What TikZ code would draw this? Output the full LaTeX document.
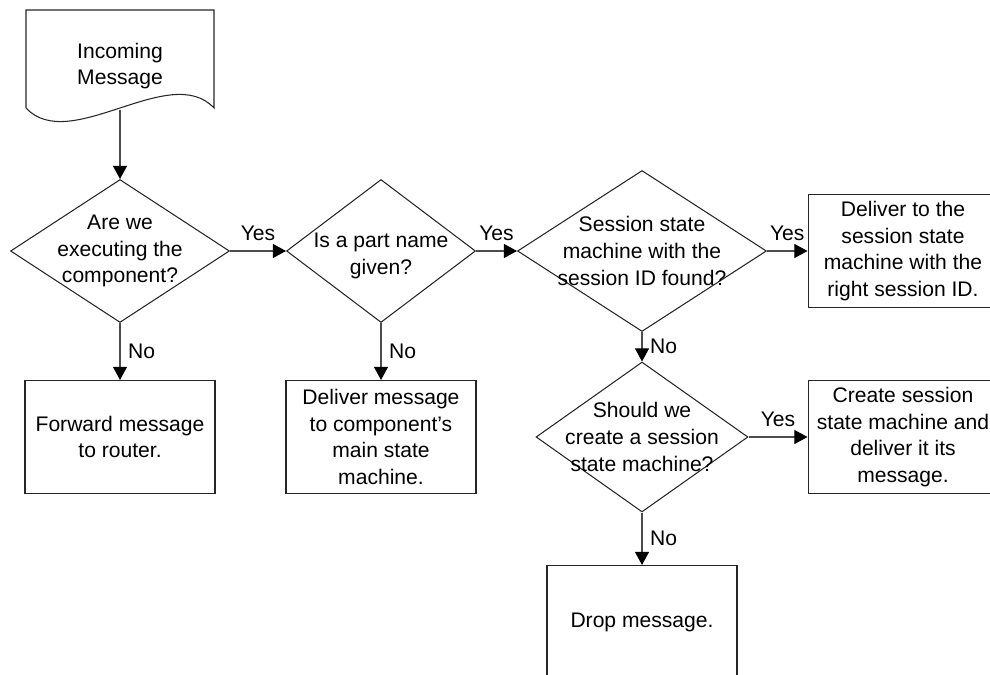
\documentclass[tikz,border=0pt]{standalone}
\usepackage{fontspec}
\setmainfont{Liberation Sans}
\usetikzlibrary{positioning,shapes.geometric,arrows.meta}

\tikzset{
  txt/.style={font=\fontsize{12}{15.3}\selectfont, align=center},
  decision/.style={diamond, draw=black!85, line width=0.6pt, inner sep=0pt},
  process/.style={rectangle, draw=black!85, line width=0.6pt, minimum width=3.8cm, minimum height=2.26cm, inner sep=0pt, txt},
  flow/.style={draw=black!70, line width=0.6pt, -{Triangle[length=7.5pt,width=8pt,color=black]}},
  yeslbl/.style={midway, above=2pt, txt},
  nolbl/.style={midway, right=1pt, txt},
}

\begin{document}
\begin{tikzpicture}[x=0.02cm, y=-0.02cm]
  \clip (0,0) rectangle (990,675);

  % incoming message (document shape)
  \draw[draw=black!85, line width=0.6pt] (26,108) -- (26,10) -- (214,10) -- (214,108)
      .. controls (170,61) and (70,155) .. (26,108) -- cycle;
  \node[txt] (incoming) at (120,66) {Incoming\\Message};
  \coordinate (docout) at (120,110);

  % decisions
  \node[decision, minimum width=4.38cm, minimum height=2.86cm,
        label={[txt]center:Are we\\executing the\\component?}] (exec) at (120,251) {};
  \node[decision, minimum width=3.78cm, minimum height=2.86cm,
        label={[txt, yshift=-0.1cm]center:Is a part name\\given?}] (part) at (381,251) {};
  \node[decision, minimum width=4.98cm, minimum height=3.22cm,
        label={[txt]center:Session state\\machine with the\\session ID found?}] (found) at (642,251) {};
  \node[decision, minimum width=4.24cm, minimum height=3.0cm,
        label={[txt]center:Should we\\create a session\\state machine?}] (create) at (642,437) {};

  % actions
  \node[process] (router) at (120,437) {Forward message\\to router.};
  \node[process] (mainsm) at (381,437) {Deliver message\\to component’s\\main state\\machine.};
  \node[process] (session) at (903,251) {Deliver to the\\session state\\machine with the\\right session ID.};
  \node[process] (newsm) at (903,437) {Create session\\state machine and\\deliver it its\\message.};
  \node[process] (drop) at (642,622) {Drop message.};

  % connectors
  \draw[flow] (docout) -- (exec);
  \draw[flow] (exec) -- node[yeslbl] {Yes} (part);
  \draw[flow] (part) -- node[yeslbl] {Yes} (found);
  \draw[flow] (found) -- node[yeslbl] {Yes} (session);
  \draw[flow] (exec) -- node[nolbl] {No} (router);
  \draw[flow] (part) -- node[nolbl] {No} (mainsm);
  \draw[flow] (found) -- node[nolbl] {No} (create);
  \draw[flow] (create) -- node[yeslbl] {Yes} (newsm);
  \draw[flow] (create) -- node[nolbl] {No} (drop);
\end{tikzpicture}
\end{document}
